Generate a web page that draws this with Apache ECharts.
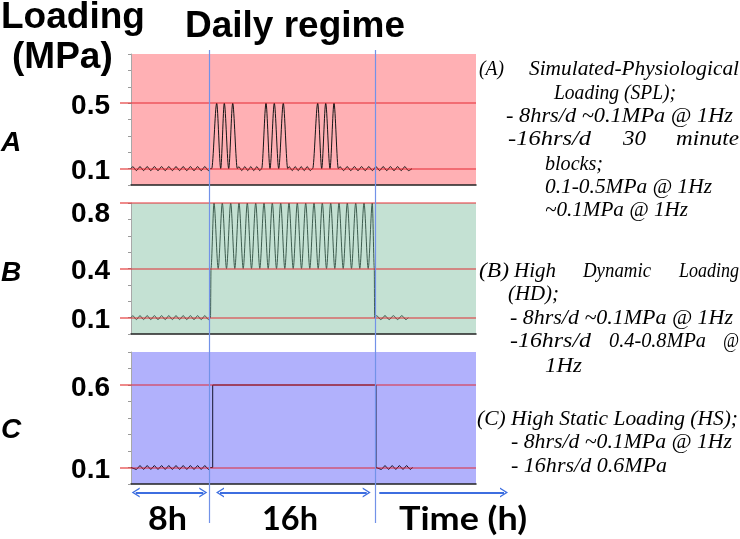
<!DOCTYPE html>
<html><head><meta charset="utf-8">
<script src="https://cdn.jsdelivr.net/npm/echarts/dist/echarts.min.js"></script>
<style>html,body{margin:0;padding:0;background:#fff}#c{width:740px;height:539px}</style>
</head><body><div id="c"></div>
<script>
// ---------------- data (time in arbitrary units along the day, load in MPa) ----------------
const panelNames = ['A', 'B', 'C'];
const ticksA = [0.1, 0.5];
const ticksB = [0.1, 0.4, 0.8];
const ticksC = [0.1, 0.6];
const regimeBounds = [78, 244.7];          // start / end of the 16 h loading period
const durationLabels = ['8h', '16h', 'Time (h)'];

const loadA = [
  [0,0.1],[1.8,0.112],[5.4,0.088],[9,0.112],[12.6,0.088],[16.2,0.112],[19.8,0.088],[23.4,0.112],[27,0.088],
  [30.6,0.112],[34.2,0.088],[37.8,0.112],[41.4,0.088],[45,0.112],[48.6,0.088],[52.2,0.112],[55.8,0.088],
  [59.4,0.112],[63,0.088],[66.6,0.112],[70.2,0.088],[73.8,0.112],[77.4,0.088],[79.5,0.1],
  [80.7,0.1],[85.7,0.5],[89.7,0.1],[93.3,0.5],[97.7,0.1],[101.7,0.5],[106.3,0.1],
  [107.8,0.112],[110.8,0.088],[113.8,0.112],[116.8,0.088],[119.8,0.112],[122.8,0.088],[125.8,0.112],[128.8,0.088],[130.7,0.1],
  [135,0.5],[139,0.1],[143.3,0.5],[147.7,0.1],[152.3,0.5],[156.7,0.1],
  [158.2,0.112],[161.2,0.088],[164.2,0.112],[167.2,0.088],[170.2,0.112],[173.2,0.088],[176.2,0.112],[179.2,0.088],[181.7,0.1],
  [186.7,0.5],[190.7,0.1],[194.7,0.5],[199,0.1],[203,0.5],[207.3,0.1],
  [209,0.112],[212.6,0.088],[216.2,0.112],[219.8,0.088],[223.4,0.112],[227,0.088],[230.6,0.112],[234.2,0.088],
  [237.8,0.112],[241.4,0.088],[245,0.112],[248.6,0.088],[252.2,0.112],[255.8,0.088],[259.4,0.112],[263,0.088],
  [266.6,0.112],[270.2,0.088],[273.8,0.112],[277.4,0.088],[281,0.1]
];

const loadB = [
  [0,0.1],[1.8,0.112],[5.4,0.088],[9,0.112],[12.6,0.088],[16.2,0.112],[19.8,0.088],[23.4,0.112],[27,0.088],
  [30.6,0.112],[34.2,0.088],[37.8,0.112],[41.4,0.088],[45,0.112],[48.6,0.088],[52.2,0.112],[55.8,0.088],
  [59.4,0.112],[63,0.088],[66.6,0.112],[70.2,0.088],[73.8,0.112],[77.4,0.088],[79.5,0.1],
  [80,0.4],[83,0.8],[87.2,0.4],[91.3,0.8],[95.5,0.4],[99.7,0.8],[103.8,0.4],[108,0.8],[112.2,0.4],[116.3,0.8],
  [120.5,0.4],[124.7,0.8],[128.8,0.4],[133,0.8],[137.2,0.4],[141.3,0.8],[145.5,0.4],[149.7,0.8],[153.8,0.4],
  [158,0.8],[162.2,0.4],[166.3,0.8],[170.5,0.4],[174.7,0.8],[178.8,0.4],[183,0.8],[187.2,0.4],[191.3,0.8],
  [195.5,0.4],[199.7,0.8],[203.8,0.4],[208,0.8],[212.2,0.4],[216.3,0.8],[220.5,0.4],[224.7,0.8],[228.8,0.4],
  [233,0.8],[237.2,0.4],[241.3,0.8],[243.3,0.4],[243.6,0.1],
  [245.6,0.112],[249.8,0.088],[254,0.112],[258.2,0.088],[262.4,0.112],[266.6,0.088],[270.8,0.112],[275,0.088],[277.3,0.1]
];

const loadC = [
  [0,0.1],[1.8,0.112],[5.4,0.088],[9,0.112],[12.6,0.088],[16.2,0.112],[19.8,0.088],[23.4,0.112],[27,0.088],
  [30.6,0.112],[34.2,0.088],[37.8,0.112],[41.4,0.088],[45,0.112],[48.6,0.088],[52.2,0.112],[55.8,0.088],
  [59.4,0.112],[63,0.088],[66.6,0.112],[70.2,0.088],[73.8,0.112],[77.4,0.088],[79.5,0.1],
  [81.7,0.1],[81.7,0.6],[245,0.6],[245,0.1],
  [246.8,0.112],[250.4,0.088],[254,0.112],[257.6,0.088],[261.2,0.112],[264.8,0.088],[268.4,0.112],[272,0.088],
  [275.6,0.112],[279.2,0.088],[281.7,0.1]
];

// ---------------- styles / layout ----------------
const panelData = [loadA, loadB, loadC];
const panelTicks = [ticksA, ticksB, ticksC];
const panelBg = ['#ffb0b4', '#c4e1d3', '#b1b1fc'];
const panelLine = ['#151515', '#3d5c4e', '#15152e'];
const panelTop = [54, 203, 352];
const panelH = [131, 131, 132];
const smoothing = [0.3, 0.3, false];
const LEFT = 131, WIDTH = 345;
const redLine = 'rgba(228,30,40,0.62)';
const blue = '#3d6ee0';

const grid = [], xAxis = [], yAxis = [], series = [];
panelData.forEach((d, i) => {
  grid.push({left: LEFT, top: panelTop[i], width: WIDTH, height: panelH[i], show: true,
             backgroundColor: panelBg[i], borderWidth: 0, containLabel: false});
  xAxis.push({type: 'value', gridIndex: i, min: 0, max: WIDTH,
    axisLine: {show: true, onZero: false, lineStyle: {color: '#222', width: 1.5}},
    axisTick: {show: false}, axisLabel: {show: false}, splitLine: {show: false}});
  yAxis.push({type: 'value', gridIndex: i, min: 0, max: 0.8, interval: 0.1,
    axisLine: {show: true, lineStyle: {color: '#a8a8a8', width: 1}},
    axisTick: {show: true, inside: false, length: 3, lineStyle: {color: '#9a9a9a'}},
    axisLabel: {show: false}, splitLine: {show: false}});
  yAxis.push({type: 'value', gridIndex: i, min: 0, max: 0.8, position: 'left',
    axisLine: {show: false},
    axisTick: {show: true, customValues: panelTicks[i], length: 11, lineStyle: {color: 'rgba(228,60,60,0.8)', width: 1.5}},
    axisLabel: {show: true, customValues: panelTicks[i], margin: 21,
      formatter: v => (i === 1 && v === 0.8) ? '{hi|' + v + '}' : '{n|' + v + '}',
      rich: {
        n: {fontFamily: 'Liberation Sans', fontWeight: 'bold', fontSize: 28, color: '#000', padding: [6, 0, 0, 0]},
        hi: {fontFamily: 'Liberation Sans', fontWeight: 'bold', fontSize: 28, color: '#000', padding: [22, 0, 0, 0]}
      }},
    splitLine: {show: false}});
  series.push({type: 'line', xAxisIndex: i, yAxisIndex: 2 * i, data: d, symbol: 'none',
    smooth: smoothing[i], smoothMonotone: 'x', clip: false,
    lineStyle: {color: panelLine[i], width: 1}, silent: true, animation: false,
    markLine: {silent: true, symbol: 'none', animation: false, label: {show: false},
      lineStyle: {color: redLine, width: 1.5, type: 'solid'},
      data: panelTicks[i].map(v => ({yAxis: v}))}});
});

// overlay grid: regime boundaries and duration arrows
grid.push({left: LEFT, top: 50, width: 400, height: 473, show: false});
xAxis.push({type: 'value', gridIndex: 3, min: 0, max: 400, show: false});
yAxis.push({type: 'value', gridIndex: 3, min: 0, max: 1, show: false});
const chevron = 'path://M5,0 L10,9 L8.4,9 L5,2.6 L1.6,9 L0,9 Z';
const arrowY = 0.0645;
series.push({type: 'line', xAxisIndex: 3, yAxisIndex: 6, data: [], silent: true, animation: false,
  markLine: {silent: true, animation: false, symbol: 'none', label: {show: false},
    lineStyle: {color: '#7292e8', width: 1.2, type: 'solid'},
    data: regimeBounds.map(v => ({xAxis: v}))}});
series.push({type: 'line', xAxisIndex: 3, yAxisIndex: 6, data: [], silent: true, animation: false,
  markLine: {silent: true, animation: false, symbolSize: [10, 8], label: {show: false},
    lineStyle: {color: blue, width: 2, type: 'solid'},
    data: [
      [{coord: [4.7, arrowY], symbol: chevron}, {coord: [72.3, arrowY], symbol: chevron}],
      [{coord: [89, arrowY], symbol: chevron}, {coord: [235.7, arrowY], symbol: chevron}],
      [{coord: [248.3, arrowY], symbol: 'none'}, {coord: [373, arrowY], symbol: chevron}]
    ]}});

// ---------------- texts (each piece stretched to the width it takes in the figure) ----------------
const mctx = document.createElement('canvas').getContext('2d');
function F(text, left, right, y, font) {
  mctx.font = font;
  const w = mctx.measureText(text).width;
  return {type: 'text', x: left, y: y, scaleX: (right - left) / w, silent: true, z: 10,
    style: {text: text, font: font, fill: '#000', align: 'left', verticalAlign: 'middle'}};
}
function T(text, x, y, font, align) {
  return {type: 'text', x: x, y: y, silent: true, z: 10,
    style: {text: text, font: font, fill: '#000', align: align || 'left', verticalAlign: 'middle'}};
}
const serif = 'italic 22px "Liberation Serif"';
const big = 'bold 32px Lato';
const graphic = [
  T('Daily regime', 295, 27, 'bold 37px "Liberation Sans"', 'center'),
  T('Loading', 1, 18, 'bold 37px "Liberation Sans"'),
  T('(MPa)', 12, 58, 'bold 37px "Liberation Sans"'),
  T(panelNames[0], 1, 143, 'italic bold 28px "Liberation Sans"'),
  T(panelNames[1], 1, 273, 'italic bold 28px "Liberation Sans"'),
  T(panelNames[2], 1, 430, 'italic bold 28px "Liberation Sans"'),
  F(durationLabels[0], 148, 187, 520, big),
  F(durationLabels[1], 262, 318, 520, big),
  F(durationLabels[2], 399, 527, 520, big),
  F('(A)', 479, 504, 69, serif), F('Simulated-Physiological', 529, 739, 69, serif),
  F('Loading (SPL);', 554, 676, 93, serif),
  F('- 8hrs/d ~0.1MPa @ 1Hz', 506, 733, 116.5, serif),
  F('-16hrs/d', 508, 591, 139.5, serif), F('30', 623, 646, 139.5, serif), F('minute', 676, 739, 139.5, serif),
  F('blocks;', 545, 603, 164, serif),
  F('0.1-0.5MPa @ 1Hz', 545, 712, 187, serif),
  F('~0.1MPa @ 1Hz', 545, 688, 210, serif),
  F('(B)', 479, 509, 271.5, serif), F('High', 514, 556, 271.5, serif), F('Dynamic', 583, 651, 271.5, serif), F('Loading', 679, 739, 271.5, serif),
  F('(HD);', 508, 559, 294.5, serif),
  F('- 8hrs/d ~0.1MPa @ 1Hz', 510, 733, 318, serif),
  F('-16hrs/d', 510, 591, 341.5, serif), F('0.4-0.8MPa', 609, 706, 341.5, serif), F('@', 723, 739, 341.5, serif),
  F('1Hz', 545, 582, 366, serif),
  F('(C) High Static Loading (HS);', 477, 738, 419, serif),
  F('- 8hrs/d ~0.1MPa @ 1Hz', 511, 732, 442, serif),
  F('- 16hrs/d 0.6MPa', 511, 667, 466, serif)
];

const chart = echarts.init(document.getElementById('c'), null, {renderer: 'canvas'});
chart.setOption({animation: false, backgroundColor: '#fff', grid, xAxis, yAxis, series, graphic});
</script></body></html>
